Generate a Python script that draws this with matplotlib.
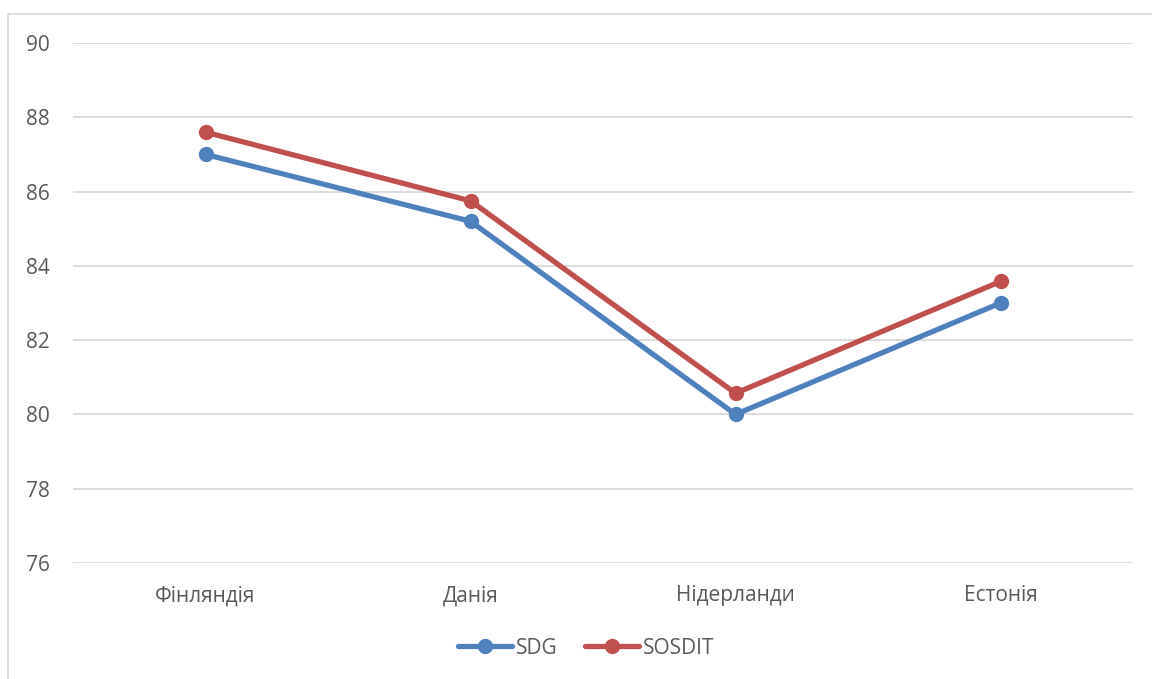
import matplotlib
matplotlib.use("Agg")
import matplotlib.pyplot as plt
from matplotlib.patches import Rectangle
from matplotlib.lines import Line2D

categories = ["Фінляндія", "Данія", "Нідерланди", "Естонія"]
sdg = [87.0, 85.2, 80.0, 83.0]
sosdit = [87.6, 85.75, 80.57, 83.58]
yticks = [76, 78, 80, 82, 84, 86, 88, 90]

plt.rcParams['font.family'] = ['Open Sans', 'DejaVu Sans']

W, H = 1152, 679
fig = plt.figure(figsize=(W / 100, H / 100), dpi=100)
fig.patch.set_facecolor("white")

# chart border (clipped on right and bottom)
fig.add_artist(Rectangle((8 / W, -0.1), 1.2, 1 - 14 / H + 0.1, transform=fig.transFigure,
                         fill=False, edgecolor="#D9D9D9", linewidth=1.3))

ax = fig.add_axes([73 / W, 1 - 563 / H, (1133 - 73) / W, (563 - 43) / H])
x = list(range(len(categories)))
blue = "#4F81BD"
red = "#C0504D"
ax.plot(x, sdg, color=blue, linewidth=3.8, marker="o", markersize=10, solid_capstyle="round", zorder=3)
ax.plot(x, sosdit, color=red, linewidth=3.8, marker="o", markersize=10, solid_capstyle="round", zorder=4)

fs = 15
ax.set_xlim(-0.5, len(categories) - 0.5)
ax.set_ylim(76, 90)
ax.set_yticks(yticks)
ax.set_xticks(x)
ax.set_xticklabels(categories)
ax.grid(axis="y", color="#D9D9D9", linewidth=1.3)
ax.set_axisbelow(True)
for s in ax.spines.values():
    s.set_visible(False)
ax.tick_params(axis="both", length=0, labelsize=fs, labelcolor="#595959")
ax.tick_params(axis="x", pad=16)
for lbl in ax.get_yticklabels():
    lbl.set_horizontalalignment("left")
ax.tick_params(axis="y", pad=34)

handles = [Line2D([], [], color=blue, linewidth=3.8, marker="o", markersize=10, solid_capstyle="round"),
           Line2D([], [], color=red, linewidth=3.8, marker="o", markersize=10, solid_capstyle="round")]
fig.legend(handles, ["SDG", "SOSDIT"], loc="center", bbox_to_anchor=(586 / W, 1 - 648 / H),
           ncol=2, frameon=False, fontsize=fs, labelcolor="#595959", handlelength=2.6,
           handletextpad=0.2, columnspacing=1.3)

fig.savefig("out.png", dpi=100, facecolor="white")
